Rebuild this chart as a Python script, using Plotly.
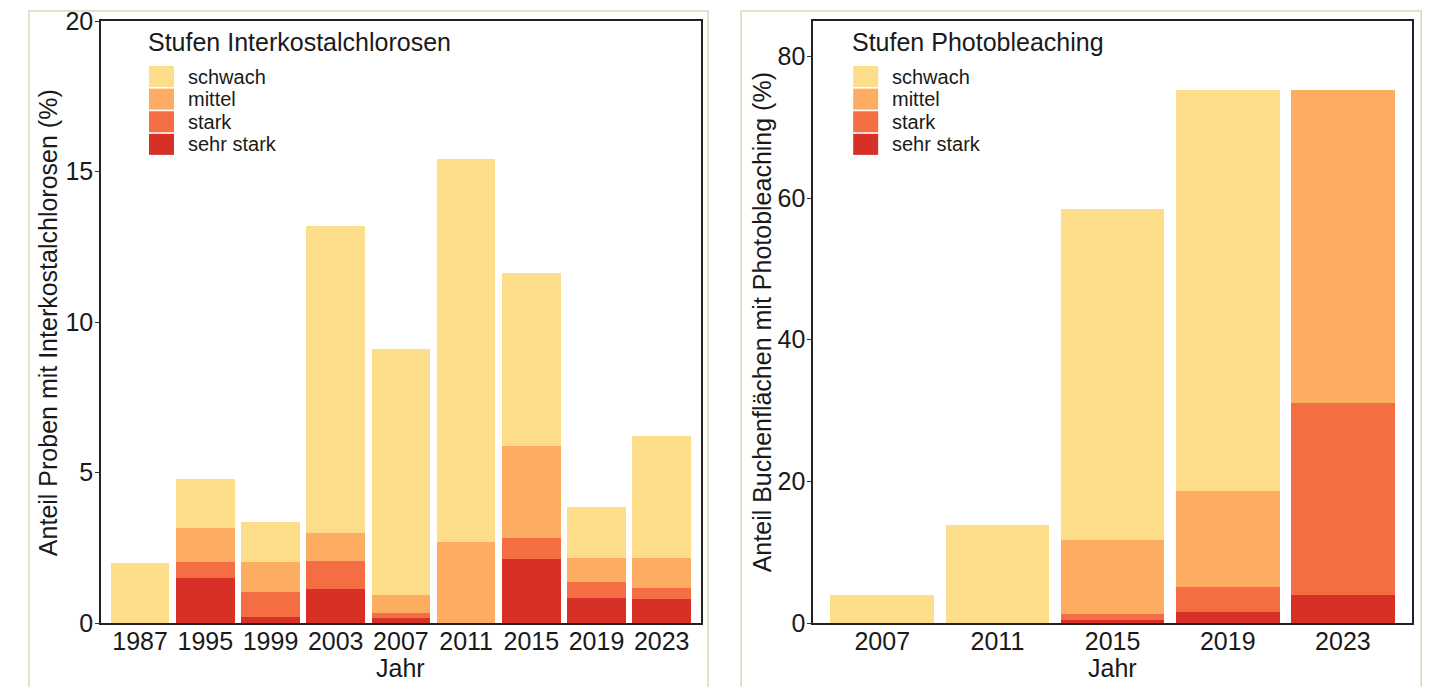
import plotly.graph_objects as go

# ---------------- data ----------------
levels = ["schwach", "mittel", "stark", "sehr stark"]
level_colors = ["#FDDD8A", "#FCAD62", "#F46D43", "#D73027"]

ic_years = ["1987", "1995", "1999", "2003", "2007", "2011", "2015", "2019", "2023"]
ic_schwach = [2.01, 1.62, 1.33, 10.22, 8.17, 12.72, 5.77, 1.72, 4.06]
ic_mittel = [0.00, 1.13, 1.00, 0.93, 0.59, 2.68, 3.05, 0.79, 0.99]
ic_stark = [0.00, 0.52, 0.83, 0.93, 0.17, 0.00, 0.70, 0.54, 0.37]
ic_sehr_stark = [0.00, 1.50, 0.19, 1.12, 0.16, 0.00, 2.12, 0.82, 0.79]

pb_years = ["2007", "2011", "2015", "2019", "2023"]
pb_schwach = [4.0, 13.9, 46.7, 56.6, 0.0]
pb_mittel = [0.0, 0.0, 10.39, 13.67, 44.2]
pb_stark = [0.0, 0.0, 0.84, 3.43, 27.0]
pb_sehr_stark = [0.0, 0.0, 0.47, 1.6, 4.0]

ic_title = "Stufen Interkostalchlorosen"
pb_title = "Stufen Photobleaching"
ic_ylabel = "Anteil Proben mit Interkostalchlorosen (%)"
pb_ylabel = "Anteil Buchenflächen mit Photobleaching (%)"
xlabel = "Jahr"

# ---------------- layout helpers (page coordinates; body has 8px margin) ----------------
OFF = 8
PL, PR, PT, PB = 101, 1411.7, 21, 622.7  # plot area in page pixels
W, H = 1433 - OFF, 687 - OFF
FONT = "Liberation Sans, Arial, sans-serif"
TXT = "#1a1a1a"


def px(x):
    return (x - PL) / (PR - PL)


def py(y):
    return (PB - y) / (PB - PT)


fig = go.Figure()

ic_series = {"schwach": ic_schwach, "mittel": ic_mittel, "stark": ic_stark, "sehr stark": ic_sehr_stark}
pb_series = {"schwach": pb_schwach, "mittel": pb_mittel, "stark": pb_stark, "sehr stark": pb_sehr_stark}

# stacking order: sehr stark at the bottom
for lvl, col in reversed(list(zip(levels, level_colors))):
    fig.add_trace(go.Bar(x=ic_years, y=ic_series[lvl], name=lvl, marker_color=col,
                         marker_line_width=0, showlegend=False, xaxis="x", yaxis="y"))
for lvl, col in reversed(list(zip(levels, level_colors))):
    fig.add_trace(go.Bar(x=pb_years, y=pb_series[lvl], name=lvl, marker_color=col,
                         marker_line_width=0, showlegend=False, xaxis="x2", yaxis="y2"))

axis_common = dict(showline=True, linecolor="#222", linewidth=1.5, mirror=True,
                   showgrid=False, zeroline=False, ticklabeloverflow="allow",
                   tickfont=dict(size=25, color=TXT, family=FONT))
xcommon = dict(type="category", ticks="", ticklabelstandoff=-5, **axis_common)
ycommon = dict(domain=[0, 1], ticks="outside", ticklen=4, tickcolor="#333",
               ticklabelstandoff=-3, **axis_common)

fig.update_layout(
    width=W, height=H,
    margin=dict(l=PL - OFF, r=W - (PR - OFF), t=PT - OFF, b=H - (PB - OFF), autoexpand=False),
    paper_bgcolor="white", plot_bgcolor="white",
    font=dict(family=FONT, color=TXT),
    barmode="stack", bargap=0.1,
    xaxis=dict(domain=[0, px(700.7)], range=[-0.6, len(ic_years) - 0.4], anchor="y", **xcommon),
    yaxis=dict(range=[0, 20], tickvals=[0, 5, 10, 15, 20], anchor="x", **ycommon),
    xaxis2=dict(domain=[px(813), 1], range=[-0.6, len(pb_years) - 0.4], anchor="y2", **xcommon),
    yaxis2=dict(range=[0, 85], tickvals=[0, 20, 40, 60, 80], anchor="x2", **ycommon),
)

shapes = []
annotations = []

# card borders
for x0, x1 in [(29, 708), (741, 1421)]:
    shapes.append(dict(type="rect", xref="paper", yref="paper", x0=px(x0), x1=px(x1),
                       y0=py(720), y1=py(11), line=dict(color="#D5DBB9", width=1.5),
                       fillcolor="rgba(0,0,0,0)", layer="below"))

# axis titles
for txt, x in [(ic_ylabel, 48), (pb_ylabel, 762)]:
    annotations.append(dict(text=txt, xref="paper", yref="paper", x=px(x), y=py(322),
                            xanchor="center", yanchor="middle", textangle=-90, showarrow=False,
                            font=dict(size=25, color=TXT, family=FONT)))
for x in [(101 + 700.7) / 2, (813 + 1411.7) / 2]:
    annotations.append(dict(text=xlabel, xref="paper", yref="paper", x=px(x), y=py(668),
                            xanchor="center", yanchor="middle", showarrow=False,
                            font=dict(size=25, color=TXT, family=FONT)))

# manual legends (large swatches)
for title, sx in [(ic_title, 149), (pb_title, 853)]:
    annotations.append(dict(text=title, xref="paper", yref="paper", x=px(sx - 3), y=py(42),
                            xanchor="left", yanchor="middle", showarrow=False,
                            font=dict(size=25, color=TXT, family=FONT)))
    for i, (lvl, col) in enumerate(zip(levels, level_colors)):
        top = 66 + i * 22.6
        shapes.append(dict(type="rect", xref="paper", yref="paper", x0=px(sx), x1=px(sx + 25),
                           y0=py(top + 21), y1=py(top), fillcolor=col, line=dict(width=0)))
        annotations.append(dict(text=lvl, xref="paper", yref="paper", x=px(sx + 37), y=py(top + 10.5),
                                xanchor="left", yanchor="middle", showarrow=False,
                                font=dict(size=20, color=TXT, family=FONT)))

fig.update_layout(shapes=shapes, annotations=annotations)

fig.write_html("out.html")
